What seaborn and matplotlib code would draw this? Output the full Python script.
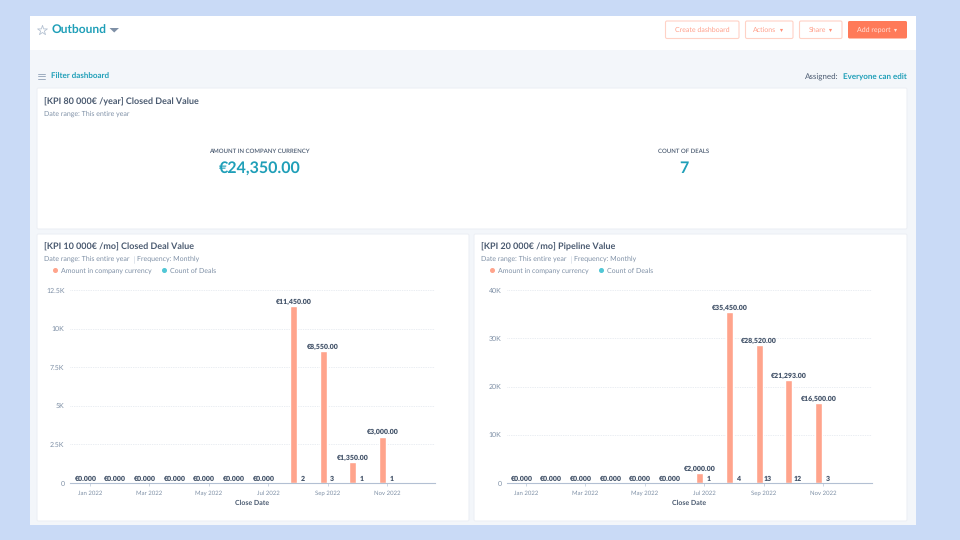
# Outbound dashboard - deal value charts
import pandas as pd
import matplotlib
matplotlib.use('Agg')
import matplotlib.pyplot as plt
from matplotlib.lines import Line2D
from matplotlib.patches import FancyBboxPatch, Rectangle
import seaborn as sns

# data
months = ['Jan 2022', 'Feb 2022', 'Mar 2022', 'Apr 2022', 'May 2022', 'Jun 2022',
          'Jul 2022', 'Aug 2022', 'Sep 2022', 'Oct 2022', 'Nov 2022', 'Dec 2022']
closed_amount = [0, 0, 0, 0, 0, 0, 0, 11450, 8550, 1350, 3000, None]
closed_count = [None, None, None, None, None, None, None, 2, 3, 1, 1, None]
pipeline_amount = [0, 0, 0, 0, 0, 0, 2000, 35450, 28520, 21293, 16500, None]
pipeline_count = [None, None, None, None, None, None, 1, 4, 13, 12, 3, None]
closed_ticks = [0, 2500, 5000, 7500, 10000, 12500]
closed_ticklabels = ['0', '2.5K', '5K', '7.5K', '10K', '12.5K']
pipeline_ticks = [0, 10000, 20000, 30000, 40000]
pipeline_ticklabels = ['0', '10K', '20K', '30K', '40K']

TEAL = '#1f9fb8'
DARK = '#4a5a70'
GREY = '#7f90a6'
CORAL = '#ffa48c'
CYAN = '#51c7d6'

sns.set_theme(style='white')
plt.rcParams['font.family'] = ['Lato', 'DejaVu Sans']
plt.rcParams['text.hinting'] = 'none'
plt.rcParams['text.hinting_factor'] = 1

fig = plt.figure(figsize=(9.6, 5.4), dpi=100, facecolor='#c9daf6')

# page layer, in pixels
bg = fig.add_axes([0, 0, 1, 1])
bg.set_xlim(0, 960)
bg.set_ylim(540, 0)
bg.axis('off')


def box(x0, y0, x1, y1, face, edge='none', radius=1.5, lw=0.8):
    bg.add_patch(FancyBboxPatch((x0, y0), x1 - x0, y1 - y0,
                                boxstyle=f'round,pad=0,rounding_size={radius}',
                                fc=face, ec=edge, lw=lw))


def label(x, y, s, size=5.5, color=DARK, ha='left', weight='normal'):
    bg.text(x, y, s, fontsize=size, color=color, ha=ha, va='center', fontweight=weight)


bg.add_patch(Rectangle((30, 16), 886, 34, fc='white', ec='none'))
bg.add_patch(Rectangle((30, 50), 886, 475, fc='#f3f6fa', ec='none'))
box(37, 88, 907, 229, 'white', '#edf0f5')
box(37, 234, 469, 521, 'white', '#edf0f5')
box(474, 234, 907, 521, 'white', '#edf0f5')

# header
bg.scatter([42], [30], marker='*', s=55, fc='white', ec='#b5c2d2', lw=0.6)
label(52, 30.5, 'Outbound', size=8.4, color=TEAL, weight='bold')
bg.fill([109.5, 119, 114.2], [28, 28, 32.5], color='#7f90a6', lw=0)

box(665.5, 21, 739, 38.5, 'white', '#ffd2c6')
label(702, 30, 'Create dashboard', size=5, color='#ff9f8a', ha='center')
box(745.5, 21, 793, 38.5, 'white', '#ffd2c6')
label(765, 30, 'Actions', size=5, color='#ff9f8a', ha='center')
bg.scatter([781], [30], marker='v', s=5, color='#ff8f78', lw=0)
box(799.5, 21, 842, 38.5, 'white', '#ffd2c6')
label(817, 30, 'Share', size=5, color='#ff9f8a', ha='center')
bg.scatter([830], [30], marker='v', s=5, color='#ff8f78', lw=0)
box(848, 21, 907, 38.5, '#ff7a59')
label(874, 30, 'Add report', size=5, color='#ffe3da', ha='center')
bg.scatter([895], [30], marker='v', s=5, color='#ffe3da', lw=0)

# filter row
for yy in (73.5, 76, 78.5):
    bg.plot([38, 44.5], [yy, yy], color='#8fa0b5', lw=0.6)
label(51, 77, 'Filter dashboard', size=5.7, color=TEAL, weight='bold')
label(907, 77, 'Everyone can edit', size=5.7, color=TEAL, ha='right', weight='bold')
label(839, 77, 'Assigned:', size=5.9, color=DARK, ha='right')

# KPI card
label(44, 101.7, '[KPI 80 000€ /year] Closed Deal Value', size=6.6, weight='bold')
label(44, 113.5, 'Date range: This entire year', size=4.75, color=GREY)
label(259.5, 151.5, 'AMOUNT IN COMPANY CURRENCY', size=4.55, ha='center', weight='semibold')
label(259.5, 168.5, '€24,350.00', size=11.8, color=TEAL, ha='center', weight='bold')
label(684, 151.5, 'COUNT OF DEALS', size=4.6, ha='center', weight='semibold')
label(684, 168.5, '7', size=11.8, color=TEAL, ha='center', weight='bold')


def draw_chart(left, right, jan_x, amount, count, ticks, ticklabels, ymax, title, text_x):
    label(text_x, 247.2, title, size=6.6, weight='bold')
    label(text_x, 259, 'Date range: This entire year', size=4.75, color=GREY)
    bg.plot([text_x + 89.5, text_x + 89.5], [255.5, 262.5], color='#d5dce6', lw=0.5)
    label(text_x + 93, 259, 'Frequency: Monthly', size=4.75, color=GREY)

    ax = fig.add_axes([left / 960, (540 - 483) / 540, (right - left) / 960, 193 / 540])
    ax.patch.set_alpha(0)

    # 空值填0，否则 seaborn 的容器里会缺条形
    df = pd.DataFrame({'month': months, 'amount': amount, 'count': count}).fillna(0)
    long_df = df.melt(id_vars='month', var_name='series', value_name='value')
    sns.barplot(data=long_df, x='month', y='value', hue='series',
                hue_order=['amount', 'count'], palette=[CORAL, '#c5d0de'],
                width=0.6, gap=0.2, saturation=1, legend=False, ax=ax)

    # labels on the bars
    amount_text = ['' if v is None else ('€0.000' if v == 0 else f'€{v:,.2f}') for v in amount]
    count_text = ['' if v is None else str(v) for v in count]
    ax.bar_label(ax.containers[0], labels=amount_text, padding=0.8, fontsize=4.9,
                 color='#44546a', fontweight='heavy')
    ax.bar_label(ax.containers[1], labels=count_text, padding=0.8, fontsize=4.9,
                 color='#44546a', fontweight='heavy')

    # one month is 29.7 px wide
    ax.set_xlim((left - jan_x) / 29.7, (right - jan_x) / 29.7)
    ax.set_ylim(0, ymax)
    ax.set_yticks(ticks, ticklabels)
    ax.set_xticks(range(0, 12, 2), months[::2])
    ax.tick_params(axis='x', length=2, width=0.5, color='#b8c5d6', labelsize=4.5,
                   labelcolor=GREY, pad=3.5, bottom=True)
    ax.tick_params(axis='y', length=0, labelsize=4.7, labelcolor=GREY, pad=4)
    ax.grid(axis='y', color='#d5dce6', lw=0.5, ls=(0, (1, 1.5)))
    ax.set_axisbelow(True)
    sns.despine(ax=ax, left=True)
    ax.spines['bottom'].set_color('#b3c0d3')
    ax.spines['bottom'].set_linewidth(0.8)
    ax.set_xlabel('Close Date', fontsize=4.8, color=DARK, fontweight='bold', labelpad=2.5)
    ax.set_ylabel('')

    handles = [Line2D([], [], ls='', marker='o', ms=2.6, color=CORAL),
               Line2D([], [], ls='', marker='o', ms=2.6, color=CYAN)]
    ax.legend(handles, ['Amount in company currency', 'Count of Deals'],
              loc='center left', bbox_to_anchor=((text_x + 8) / 960, (540 - 270.5) / 540),
              bbox_transform=fig.transFigure, ncol=2, frameon=False, fontsize=4.75,
              labelcolor=GREY, handletextpad=0.4, columnspacing=1.35, borderpad=0,
              borderaxespad=0, handlelength=1)


# 左图 / 右图
draw_chart(70, 435, 90, closed_amount, closed_count, closed_ticks, closed_ticklabels, 12500,
           '[KPI 10 000€ /mo] Closed Deal Value', 44)
draw_chart(507, 872, 526, pipeline_amount, pipeline_count, pipeline_ticks, pipeline_ticklabels, 40000,
           '[KPI 20 000€ /mo] Pipeline Value', 481)

fig.savefig('out.png', dpi=100, facecolor=fig.get_facecolor())
